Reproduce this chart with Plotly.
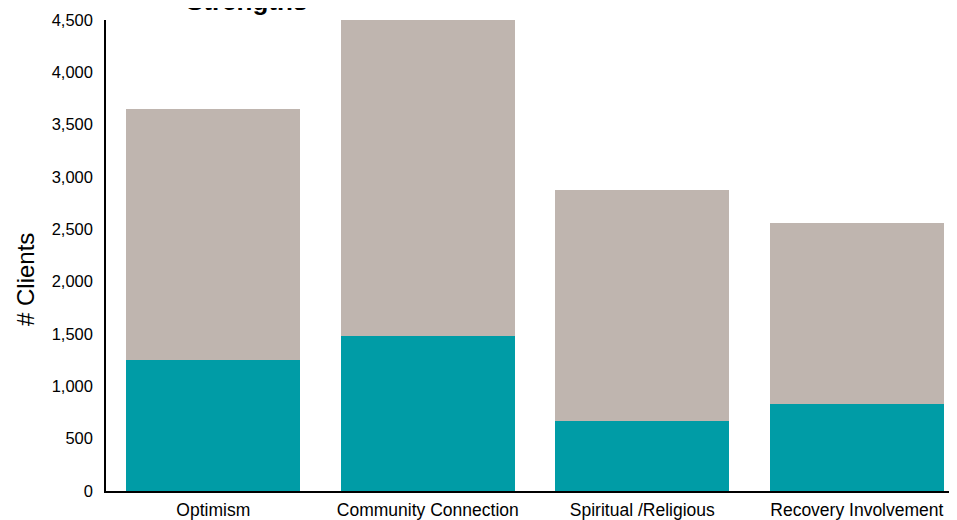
import plotly.graph_objects as go

categories = ["Optimism", "Community Connection", "Spiritual /Religious", "Recovery Involvement"]
teal_values = [1250, 1480, 670, 830]
total_values = [3650, 4500, 2875, 2560]
gray_values = [t - s for t, s in zip(total_values, teal_values)]
y_ticks = [0, 500, 1000, 1500, 2000, 2500, 3000, 3500, 4000, 4500]
y_tick_labels = [f"{v:,}" for v in y_ticks]

# page has an 8px body margin; figure sized to compensate
L, T, B = 98, 12, 29
W, H = 949, 512
plot_w = W - L
plot_h = H - T - B

fig = go.Figure()
fig.add_trace(go.Bar(x=categories, y=teal_values, marker_color="#009CA6", marker_line_width=0, name="teal"))
fig.add_trace(go.Bar(x=categories, y=gray_values, marker_color="#BFB5AF", marker_line_width=0, name="gray"))

fig.update_layout(
    barmode="stack",
    bargap=0.19,
    width=W, height=H,
    margin=dict(l=L, r=0, t=T, b=B),
    plot_bgcolor="white", paper_bgcolor="white",
    showlegend=False,
    font=dict(family="Liberation Sans, Arial, sans-serif", color="black"),
)
fig.update_xaxes(
    range=[-0.5, 3.467],
    showline=True, linecolor="black", linewidth=1.5,
    showgrid=False, ticks="", tickfont=dict(size=17.5),
    ticklabelstandoff=2,
)
fig.update_yaxes(
    range=[0, 4500],
    tickvals=y_ticks, ticktext=y_tick_labels,
    showline=True, linecolor="black", linewidth=1.5,
    showgrid=False, ticks="", tickfont=dict(size=16.5),
    ticklabelstandoff=8,
)
fig.add_annotation(
    text="# Clients", xref="paper", yref="paper",
    x=(17 - L) / plot_w, y=(T + plot_h - 272) / plot_h,
    xanchor="center", yanchor="middle", textangle=-90, showarrow=False,
    font=dict(size=24, color="black"),
)
fig.add_annotation(
    text="<b>Strengths</b>", xref="paper", yref="paper",
    x=(238 - L) / plot_w, y=1 + 2 / plot_h,
    xanchor="center", yanchor="bottom", showarrow=False,
    font=dict(size=26, color="black"),
)
fig.write_html("out.html")
